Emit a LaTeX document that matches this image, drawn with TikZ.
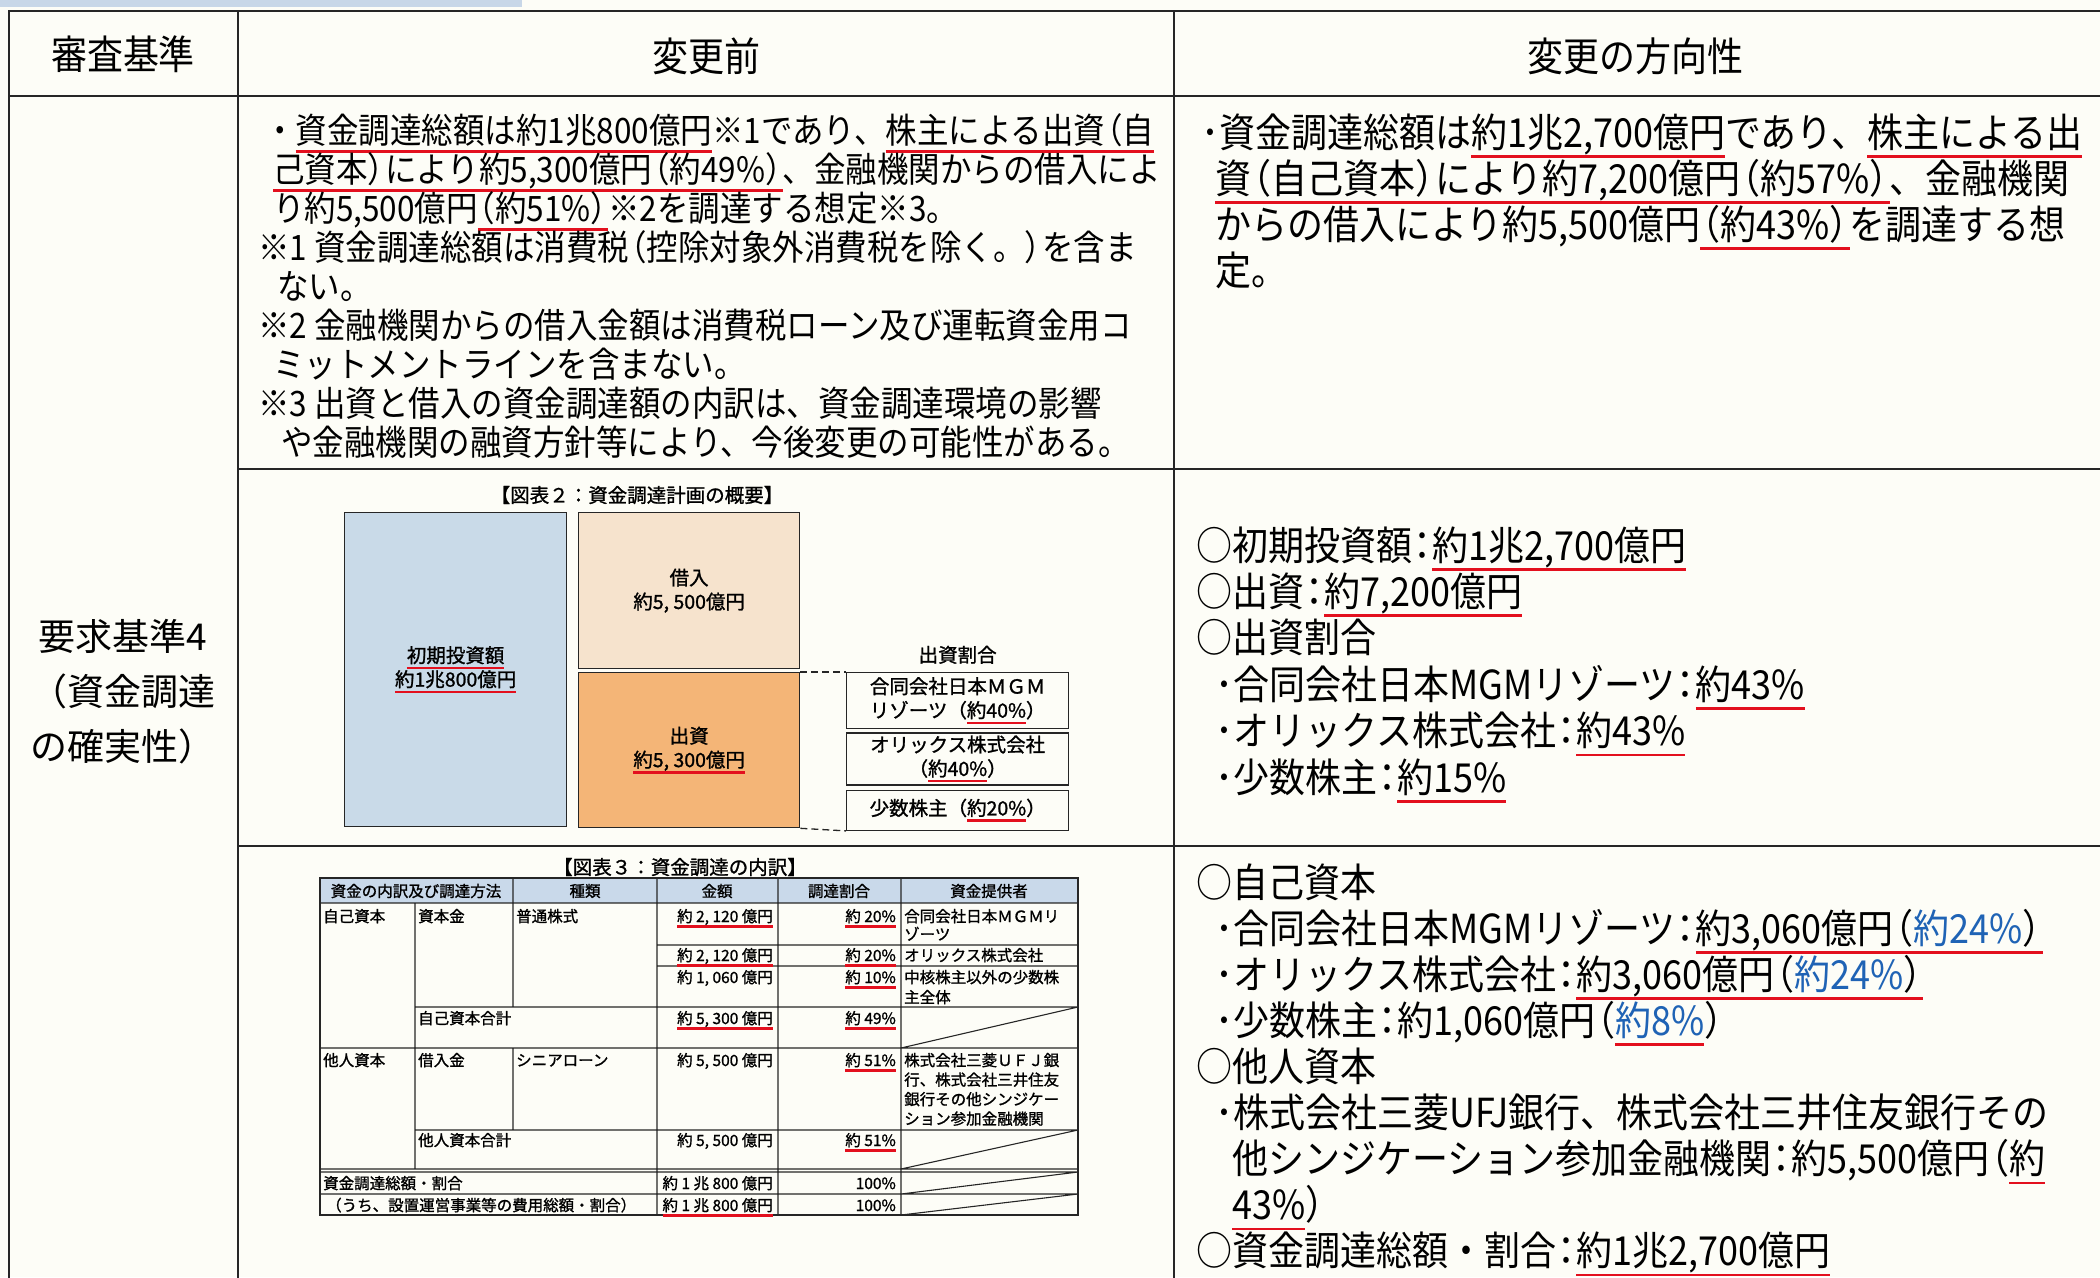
\documentclass[tikz,border=0pt]{standalone}
\usepackage{fontspec}
\setmainfont{Noto Sans CJK JP}
\newfontfamily\jpn[FakeStretch=0.9]{Noto Sans CJK JP}
\newfontfamily\jpw{Noto Sans CJK JP}
\newfontfamily\jpb[FakeBold=1.2]{Noto Sans CJK JP}
\usetikzlibrary{positioning}
\definecolor{paper}{HTML}{FDFDF7}
\definecolor{ulred}{HTML}{E3101E}
\definecolor{pblue}{HTML}{1F63B5}
\definecolor{barblue}{HTML}{C8D7E8}
\definecolor{invblue}{HTML}{C9DAE8}
\definecolor{loanorange}{HTML}{F6E3CD}
\definecolor{eqorange}{HTML}{F4B577}
\definecolor{headblue}{HTML}{C9D9EA}
\newsavebox\ulbox
\newcommand\ru[1]{\sbox\ulbox{#1}\rlap{\color{ulred}\rule[\dimexpr-0.2em-2.6pt\relax]{\wd\ulbox}{2.6pt}}\usebox\ulbox}
\newcommand\lp{\hspace{-0.4em}（}
\newcommand\rp{）\hspace{-0.4em}}
\newcommand\cl{\hspace{-0.2em}：\hspace{-0.2em}}

\begin{document}
\begin{tikzpicture}[x=1pt,y=-1pt]
\tikzset{
  frame/.style={draw=black!85,line width=2.4pt},
  hair/.style={draw=black!85,line width=1.1pt},
  txt/.style={inner sep=0pt,anchor=base west,font=\jpn\fontsize{35}{39}\selectfont},
  big/.style={inner sep=0pt,anchor=base west,font=\jpn\fontsize{40}{46}\selectfont},
  head/.style={inner sep=0pt,font=\jpn\fontsize{40}{46}\selectfont},
  fig/.style={inner sep=0pt,align=center,font=\jpb\fontsize{19.5}{24}\selectfont},
  blk/.style={fig,draw=black!85,line width=1.3pt,anchor=north west},
  cell/.style={inner sep=0pt,anchor=base west,font=\jpb\fontsize{15.5}{19}\selectfont},
  num/.style={cell,anchor=base east},
  colh/.style={cell,anchor=center},
  dashcon/.style={draw=black!85,line width=1.3pt,dash pattern=on 7pt off 4pt}
}
\fill[paper] (0,0) rectangle (2100,1277);
\useasboundingbox (0,0) rectangle (2100,1277);
\fill[barblue] (0,0) rectangle (522,7);

\draw[frame] (9,1290) -- (9,11) -- (2110,11);
\draw[frame] (9,96) -- (2110,96);
\draw[frame] (238,11) -- (238,1290);
\draw[frame] (1174,11) -- (1174,1290);
\draw[frame] (238,469) -- (2110,469);
\draw[frame] (238,846) -- (2110,846);

\node[head] (hcrit) at (123,54) {審査基準};
\node[head] (hbefore) at (706,56) {変更前};
\node[head] (hafter) at (1635,56) {変更の方向性};
\node[inner sep=0pt,align=center,font=\jpw\fontsize{37}{55}\selectfont] (crit) at (123,692) {要求基準4\\（資金調達\\の確実性）};

\foreach \x/\t [count=\i from 0] in {
  264/{・\ru{資金調達総額は約1兆800億円}※1であり、\ru{株主による出資\lp 自}},
  273/{\ru{己資本\rp により約5,300億円\lp 約49\%\rp}、金融機関からの借入によ},
  273/{り約5,500億円\ru{\lp 約51\%\rp}※2を調達する想定※3。},
  258/{※1 資金調達総額は消費税\lp 控除対象外消費税を除く。\rp を含ま},
  277/{ない。},
  258/{※2 金融機関からの借入金額は消費税ローン及び運転資金用コ},
  273/{ミットメントラインを含まない。},
  258/{※3 出資と借入の資金調達額の内訳は、資金調達環境の影響},
  281/{や金融機関の融資方針等により、今後変更の可能性がある。}}
  \node[txt] (bef\i) at (\x,{143+39.1*\i}) {\t};

\foreach \x/\t [count=\i from 0] in {
  1201/{･資金調達総額は\ru{約1兆2,700億円}であり、\ru{株主による出}},
  1215/{\ru{資\lp 自己資本\rp により約7,200億円\lp 約57\%\rp}、金融機関},
  1215/{からの借入により約5,500億円\ru{\lp 約43\%\rp}を調達する想},
  1215/{定。}}
  \node[big] (aft\i) at (\x,{147+46*\i}) {\t};

\foreach \x/\t [count=\i from 0] in {
  1196/{○初期投資額\cl\ru{約1兆2,700億円}},
  1196/{○出資\cl\ru{約7,200億円}},
  1196/{○出資割合},
  1215/{･合同会社日本MGMリゾーツ\cl\ru{約43\%}},
  1215/{･オリックス株式会社\cl\ru{約43\%}},
  1215/{･少数株主\cl\ru{約15\%}}}
  \node[big] (plan\i) at (\x,{560+46.4*\i}) {\t};

\foreach \x/\t [count=\i from 0] in {
  1196/{○自己資本},
  1215/{･合同会社日本MGMリゾーツ\cl\ru{約3,060億円\lp\textcolor{pblue}{約24\%}\rp}},
  1215/{･オリックス株式会社\cl\ru{約3,060億円\lp\textcolor{pblue}{約24\%}\rp}},
  1215/{･少数株主\cl 約1,060億円\lp\ru{\textcolor{pblue}{約8\%}}\rp},
  1196/{○他人資本},
  1215/{･株式会社三菱UFJ銀行、株式会社三井住友銀行その},
  1232/{他シンジケーション参加金融機関\cl 約5,500億円\lp\ru{約}},
  1232/{\ru{43\%}\rp},
  1196/{○資金調達総額・割合\cl\ru{約1兆2,700億円}}}
  \node[big] (fund\i) at (\x,{897+46.1*\i}) {\t};

\node[fig] (t2) at (637,495) {【図表２：資金調達計画の概要】};
\node[blk,fill=invblue,minimum width=222pt,minimum height=314pt] (inv) at (344,512) {\ru{初期投資額}\\\ru{約1兆800億円}};
\node[blk,fill=loanorange,minimum width=221pt,minimum height=156pt] (loan) at (578,512) {借入\\約5, 500億円};
\node[blk,fill=eqorange,minimum width=221pt,minimum height=155pt] (equity) at (578,672) {出資\\\ru{約5, 300億円}};
\node[blk,minimum width=222pt,minimum height=56pt] (mgm) at (846,672) {合同会社日本ＭＧＭ\\リゾーツ（\ru{約40\%}）};
\node[blk,minimum width=222pt,minimum height=52pt,below=3pt of mgm] (orix) {オリックス株式会社\\（\ru{約40\%}）};
\node[blk,minimum width=222pt,minimum height=40pt,below=4pt of orix] (minor) {少数株主（\ru{約20\%}）};
\node[fig,above=8pt of mgm] (share) {出資割合};
\draw[dashcon] (equity.north east) -- (mgm.north west);
\draw[dashcon] (equity.south east) -- (minor.south west);

\node[fig] (t3) at (680,867) {【図表３：資金調達の内訳】};
\fill[headblue] (320,878) rectangle (1078,903);
\draw[hair] (320,878) rectangle (1078,1215);
\draw[hair] (320,903) -- (1078,903)
  (657,945) -- (1078,945)
  (657,966) -- (1078,966)
  (415,1007) -- (1078,1007)
  (320,1048) -- (1078,1048)
  (415,1130) -- (1078,1130)
  (320,1169) -- (1078,1169)
  (320,1172) -- (1078,1172)
  (320,1194) -- (1078,1194)
  (415,903) -- (415,1169)
  (513,878) -- (513,1007)
  (513,1048) -- (513,1130)
  (657,878) -- (657,1215)
  (778,878) -- (778,1215)
  (901,878) -- (901,1215)
  (901,1048) -- (1078,1007)
  (901,1169) -- (1078,1130)
  (901,1194) -- (1078,1172)
  (901,1215) -- (1078,1194);
\node[colh] (c1) at (416,891) {資金の内訳及び調達方法};
\node[colh] (c2) at (585,891) {種類};
\node[colh] (c3) at (717,891) {金額};
\node[colh] (c4) at (839,891) {調達割合};
\node[colh] (c5) at (989,891) {資金提供者};
\node[cell] (own) at (323,922) {自己資本};
\node[cell] (cap) at (418,922) {資本金};
\node[cell] (common) at (516,922) {普通株式};
\node[num] (a1) at (773,922) {\ru{約 2, 120 億円}};
\node[num] (p1) at (896,922) {\ru{約 20\%}};
\node[cell] (s1) at (904,922) {合同会社日本ＭＧＭリ};
\node[cell] (s1b) at (904,940) {ゾーツ};
\node[num] (a2) at (773,961) {\ru{約 2, 120 億円}};
\node[num] (p2) at (896,961) {\ru{約 20\%}};
\node[cell] (s2) at (904,961) {オリックス株式会社};
\node[num] (a3) at (773,983) {約 1, 060 億円};
\node[num] (p3) at (896,983) {\ru{約 10\%}};
\node[cell] (s3) at (904,983) {中核株主以外の少数株};
\node[cell] (s3b) at (904,1003) {主全体};
\node[cell] (ownsum) at (418,1024) {自己資本合計};
\node[num] (a4) at (773,1024) {\ru{約 5, 300 億円}};
\node[num] (p4) at (896,1024) {\ru{約 49\%}};
\node[cell] (debt) at (323,1066) {他人資本};
\node[cell] (loanc) at (418,1066) {借入金};
\node[cell] (senior) at (516,1066) {シニアローン};
\node[num] (a5) at (773,1066) {約 5, 500 億円};
\node[num] (p5) at (896,1066) {\ru{約 51\%}};
\foreach \t [count=\i] in {株式会社三菱ＵＦＪ銀, 行、株式会社三井住友, 銀行その他シンジケー, ション参加金融機関}
  \node[cell] (bank\i) at (904,{1046.5+19.5*\i}) {\t};
\node[cell] (debtsum) at (418,1146) {他人資本合計};
\node[num] (a6) at (773,1146) {約 5, 500 億円};
\node[num] (p6) at (896,1146) {\ru{約 51\%}};
\node[cell] (total) at (323,1189) {資金調達総額・割合};
\node[num] (a7) at (773,1189) {約 1 兆 800 億円};
\node[num] (p7) at (896,1189) {100\%};
\node[cell] (ofwhich) at (326,1211) {（うち、設置運営事業等の費用総額・割合）};
\node[num] (a8) at (773,1211) {\ru{約 1 兆 800 億円}};
\node[num] (p8) at (896,1211) {100\%};
\end{tikzpicture}
\end{document}
